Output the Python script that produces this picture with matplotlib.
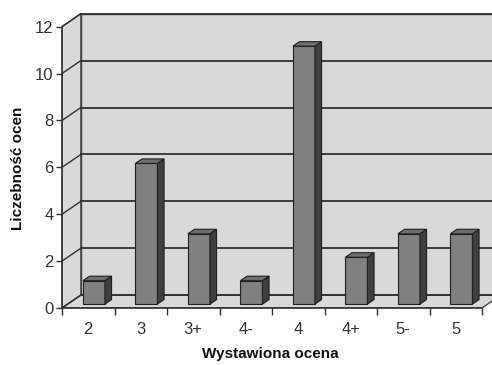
import matplotlib.pyplot as plt
import numpy as np
from matplotlib.patches import Polygon

plt.rcParams['font.family'] = ['Liberation Sans', 'DejaVu Sans']

oceny = ['2', '3', '3+', '4-', '4', '4+', '5-', '5']
liczebnosc = [1, 6, 3, 1, 11, 2, 3, 3]
yticks = [0, 2, 4, 6, 8, 10, 12]

# 3D look (Excel-like): depth offset in data units
dx, dy = 0.36, 0.55
f0, f1 = 0.3, 0.65   # bar sits between these depth fractions
w = 0.42
ymax = 12
n = len(oceny)

fig = plt.figure(figsize=(4.92, 3.65), dpi=100)
ax = fig.add_axes([62/492, 57/365, 430/492, 296/365])
ax.set_xlim(-0.5, -0.5 + 430/52.5)
ax.set_ylim(0, 296/23.45)
for s in ax.spines.values():
    s.set_visible(False)

wall = '#d9d9d9'
edge = '#404040'
# back wall
ax.add_patch(Polygon([(-0.5+dx, dy), (n-0.5+dx+1, dy), (n-0.5+dx+1, ymax+dy), (-0.5+dx, ymax+dy)],
                     closed=True, fc=wall, ec=edge, lw=1, zorder=1))
# side wall
ax.add_patch(Polygon([(-0.5, 0), (-0.5+dx, dy), (-0.5+dx, ymax+dy), (-0.5, ymax)],
                     closed=True, fc=wall, ec=edge, lw=1, zorder=1))
# floor
ax.add_patch(Polygon([(-0.5, 0), (n-0.5, 0), (n-0.5+dx, dy), (-0.5+dx, dy)],
                     closed=True, fc=wall, ec=edge, lw=1, zorder=1))

# gridlines on back wall and side wall
for v in yticks:
    ax.plot([-0.5+dx, n-0.5+dx+1], [v+dy, v+dy], color='#303030', lw=1.3, zorder=2)
    ax.plot([-0.5, -0.5+dx], [v, v+dy], color='#303030', lw=1, zorder=2)

# bars
x = np.arange(n)
xs = x + f0*dx
ax.bar(xs, liczebnosc, width=w, bottom=f0*dy, color='#808080', edgecolor='#202020', lw=0.8, zorder=3)
ddx, ddy = (f1-f0)*dx, (f1-f0)*dy
for xi, v in zip(xs, liczebnosc):
    l, r = xi - w/2, xi + w/2
    b, t = f0*dy, v + f0*dy
    ax.add_patch(Polygon([(r, b), (r+ddx, b+ddy), (r+ddx, t+ddy), (r, t)],
                         closed=True, fc='#3f3f3f', ec='#202020', lw=0.8, zorder=3))
    ax.add_patch(Polygon([(l, t), (r, t), (r+ddx, t+ddy), (l+ddx, t+ddy)],
                         closed=True, fc='#6e6e6e', ec='#202020', lw=0.8, zorder=3))

# front axes lines
ax.plot([-0.5, -0.5], [0, ymax], color='#303030', lw=1.2, zorder=4, clip_on=False)
ax.plot([-0.5, n-0.5], [0, 0], color='#303030', lw=1.2, zorder=4, clip_on=False)

ax.set_yticks(yticks)
ax.set_yticklabels([str(v) for v in yticks], fontsize=12, color='#333333')
ax.tick_params(axis='y', length=4, width=1, color='#303030', pad=2)
ax.set_xticks(x)
ax.set_xticklabels(oceny, fontsize=12, color='#333333')
ax.set_xticks(np.arange(n+1) - 0.5, minor=True)
ax.tick_params(axis='x', which='major', length=0, pad=10)
ax.tick_params(axis='x', which='minor', length=5, width=1, color='#303030')

fig.text(18/492, 1 - 168/365, 'Liczebność ocen', rotation=90, fontsize=11, fontweight='bold',
         ha='center', va='center', color='#111111')
fig.text(270/492, 1 - 354/365, 'Wystawiona ocena', fontsize=11, fontweight='bold',
         ha='center', va='center', color='#111111')

fig.savefig('out.png', dpi=100, facecolor='white')
